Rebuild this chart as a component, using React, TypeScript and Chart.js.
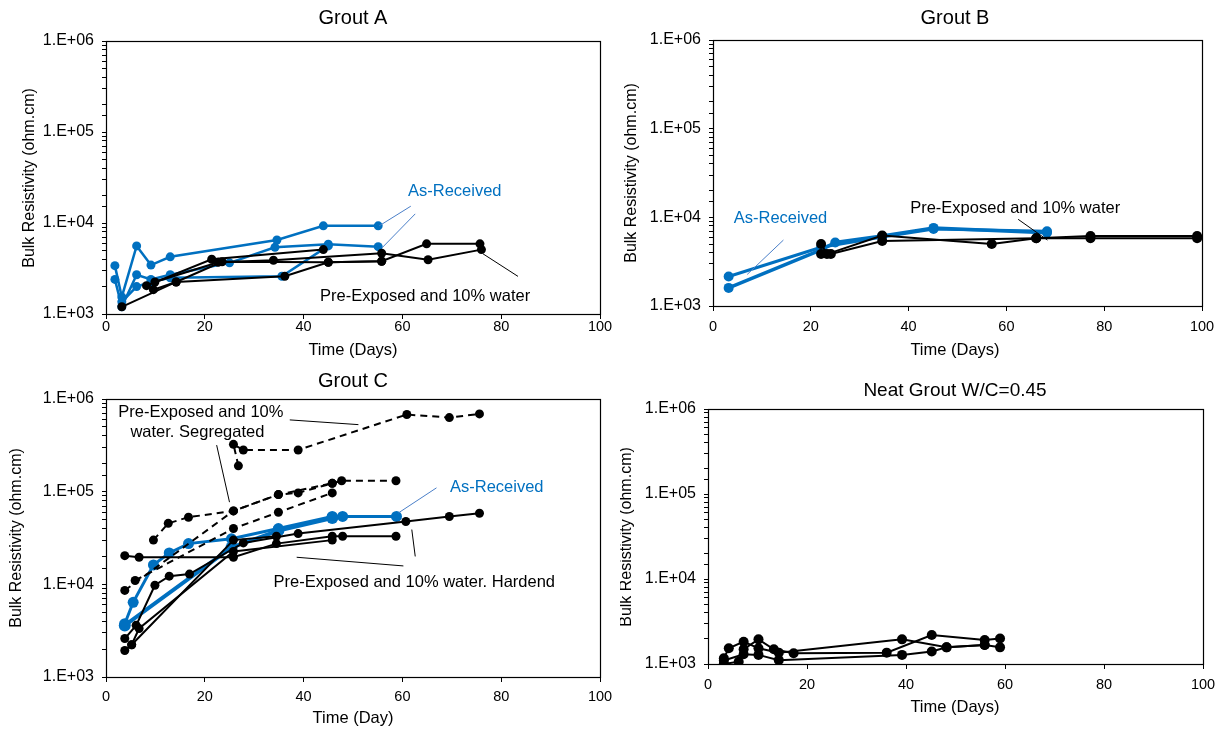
import React, { useEffect, useRef } from "react";
import { Chart, registerables } from "chart.js";

Chart.register(...registerables);

const BLUE = "#0070C0";
const BLACK = "#000000";
const FONT = "'Liberation Sans', Arial, sans-serif";

// ---------- Grout A ----------
const A_AR1_days = [1.8, 3.2, 6.2, 9.1, 13, 34.6, 44, 55.1];
const A_AR1_vals = [3400, 1540, 5600, 3450, 4250, 6500, 9300, 9300];
const A_AR2_days = [1.8, 3.2, 6.2, 9.1, 13, 25, 34.2, 45, 55.1];
const A_AR2_vals = [2400, 1200, 2700, 2400, 2700, 3650, 5400, 5850, 5500];
const A_AR3_days = [3.2, 6.2, 9.1, 13, 35.6, 45];
const A_AR3_vals = [1360, 2000, 2250, 2500, 2600, 5600];
const A_PE1_days = [3.2, 14.2, 36.2, 45, 55.8, 64.9, 75.7];
const A_PE1_vals = [1200, 2250, 2600, 3700, 3800, 5900, 5900];
const A_PE2_days = [8.2, 21.4, 44];
const A_PE2_vals = [2050, 4000, 5100];
const A_PE3_days = [9.9, 22.7, 33.9, 55.8, 65.2, 76];
const A_PE3_vals = [2250, 3700, 3900, 4650, 3950, 5100];
const A_PE4_days = [9.6, 14.2, 23.5, 45, 55.8];
const A_PE4_vals = [1850, 2250, 3750, 3700, 3800];

// ---------- Grout B ----------
const B_AR1_days = [3.2, 22.1, 25, 34.6, 45.1, 68.3];
const B_AR1_vals = [1600, 4300, 5200, 6150, 7600, 6700];
const B_AR2_days = [3.2, 22.1, 34.6, 45.1, 68.3];
const B_AR2_vals = [2150, 4600, 6000, 7400, 6950];
const B_PE1_days = [22.1, 23.3, 34.6, 57, 66.1, 77.2, 99];
const B_PE1_vals = [5000, 3850, 6250, 5000, 5800, 6150, 6150];
const B_PE2_days = [22.1, 24.1, 34.6, 66.1, 77.2, 99];
const B_PE2_vals = [3850, 3850, 5400, 5800, 5800, 5800];

// ---------- Grout C ----------
const C_SEG1_days = [26.8, 25.8, 27.8, 38.9, 60.9, 69.5, 75.6];
const C_SEG1_vals = [190000, 324000, 282000, 282000, 680000, 630000, 690000];
const C_SEG2_days = [9.6, 12.6, 16.7, 25.8, 34.9, 38.9, 45.8, 47.7, 58.7];
const C_SEG2_vals = [30000, 45500, 53000, 62000, 93000, 97000, 123000, 131000, 131000];
const C_SEG3_days = [3.8, 25.8, 34.9, 45.8];
const C_SEG3_vals = [8600, 62000, 93000, 123000];
const C_SEG4_days = [5.9, 25.8, 34.9, 45.8];
const C_SEG4_vals = [11000, 40000, 60000, 97000];
const C_AR1_days = [3.8, 5.5, 9.6, 12.8, 16.7, 25.4, 34.9, 45.8, 47.9, 58.8];
const C_AR1_vals = [3760, 6400, 16200, 21800, 27500, 31000, 40000, 54000, 54000, 54000];
const C_AR2_days = [3.8, 25.4, 34.9, 45.8];
const C_AR2_vals = [3600, 25000, 38000, 52000];
const C_HD1_days = [3.8, 6.7, 25.8, 34.5, 45.8, 47.9, 58.7];
const C_HD1_vals = [20400, 19600, 19600, 27500, 33000, 33000, 33000];
const C_HD2_days = [3.8, 6.1, 9.9, 12.8, 16.9, 27.8, 38.9, 60.7, 69.5, 75.6];
const C_HD2_vals = [2600, 3610, 9770, 12250, 12900, 28000, 35300, 47600, 54000, 58500];
const C_HD3_days = [3.8, 5.2, 6.7, 25.8, 45.8];
const C_HD3_vals = [1930, 2230, 3340, 22600, 30000];
const C_HD4_days = [5.2, 25.8, 34.5];
const C_HD4_vals = [2230, 30000, 33000];

// ---------- Neat grout ----------
const D_1_days = [3.2, 4.2, 7.2, 10.2, 14.3, 39.2, 48.2, 55.9, 59];
const D_1_vals = [1170, 1530, 1830, 1530, 1360, 1950, 1570, 1670, 1570];
const D_2_days = [3.2, 6.2, 7.2, 10.2, 13.3, 17.3, 36.1, 45.2, 55.9, 59];
const D_2_vals = [1000, 1065, 1490, 1950, 1490, 1340, 1360, 2190, 1920, 2000];
const D_3_days = [3.2, 7.2, 10.2, 14.3, 39.2, 45.2, 48.2, 55.9];
const D_3_vals = [1100, 1300, 1280, 1110, 1280, 1400, 1570, 1670];

type SeriesCfg = { days: number[]; vals: number[]; color: string; width: number; radius: number; dash?: number[] };
type TextCfg = { text: string; x: number; y: number; color: string };
type LineCfg = { x1: number; y1: number; x2: number; y2: number; color: string };
type PanelCfg = {
  box: { left: number; top: number; width: number; height: number };
  plot: { L: number; R: number; T: number; B: number };
  xPad: number;
  title: string; titleSize: number; titleX: number; titleY: number;
  yTitleX: number; yTitleY: number;
  xTitle: string; xTitleX: number; xTitleY: number;
  series: SeriesCfg[]; texts: TextCfg[]; leaders: LineCfg[];
};

const Y_TITLE = "Bulk Resistivity (ohm.cm)";
const DASH = [7, 5];
const LEADER_BLUE = "#4a7fc8";

const panels: PanelCfg[] = [
  {
    box: { left: 0, top: 0, width: 620, height: 368 },
    plot: { L: 106, R: 600, T: 41, B: 314 },
    xPad: -1,
    title: "Grout A", titleSize: 20, titleX: 353, titleY: 18,
    yTitleX: 30, yTitleY: 178,
    xTitle: "Time (Days)", xTitleX: 353, xTitleY: 350,
    series: [
      { days: A_PE1_days, vals: A_PE1_vals, color: BLACK, width: 2, radius: 4.5 },
      { days: A_PE2_days, vals: A_PE2_vals, color: BLACK, width: 2, radius: 4.5 },
      { days: A_PE3_days, vals: A_PE3_vals, color: BLACK, width: 2, radius: 4.5 },
      { days: A_PE4_days, vals: A_PE4_vals, color: BLACK, width: 2, radius: 4.5 },
      { days: A_AR1_days, vals: A_AR1_vals, color: BLUE, width: 2.5, radius: 4.5 },
      { days: A_AR2_days, vals: A_AR2_vals, color: BLUE, width: 2.5, radius: 4.5 },
      { days: A_AR3_days, vals: A_AR3_vals, color: BLUE, width: 2.5, radius: 4.5 },
    ],
    texts: [
      { text: "As-Received", x: 70.6, y: 22400, color: BLUE },
      { text: "Pre-Exposed and 10% water", x: 64.6, y: 1570, color: BLACK },
    ],
    leaders: [
      { x1: 61.7, y1: 15300, x2: 55.3, y2: 9300, color: LEADER_BLUE },
      { x1: 62.6, y1: 12600, x2: 55.9, y2: 5350, color: LEADER_BLUE },
      { x1: 83.4, y1: 2590, x2: 76.3, y2: 4590, color: BLACK },
    ],
  },
  {
    box: { left: 620, top: 0, width: 605, height: 368 },
    plot: { L: 713, R: 1202, T: 40, B: 306 },
    xPad: 7,
    title: "Grout B", titleSize: 20, titleX: 955, titleY: 18,
    yTitleX: 632, yTitleY: 173,
    xTitle: "Time (Days)", xTitleX: 955, xTitleY: 350,
    series: [
      { days: B_PE1_days, vals: B_PE1_vals, color: BLACK, width: 2, radius: 5 },
      { days: B_PE2_days, vals: B_PE2_vals, color: BLACK, width: 2, radius: 5 },
      { days: B_AR1_days, vals: B_AR1_vals, color: BLUE, width: 3.5, radius: 5 },
      { days: B_AR2_days, vals: B_AR2_vals, color: BLUE, width: 3, radius: 5 },
    ],
    texts: [
      { text: "As-Received", x: 13.8, y: 9800, color: BLUE },
      { text: "Pre-Exposed and 10% water", x: 61.8, y: 12600, color: BLACK },
    ],
    leaders: [
      { x1: 14.4, y1: 5540, x2: 7, y2: 2270, color: LEADER_BLUE },
      { x1: 62.4, y1: 9500, x2: 68.4, y2: 5540, color: BLACK },
    ],
  },
  {
    box: { left: 0, top: 368, width: 620, height: 364 },
    plot: { L: 106, R: 600, T: 399, B: 677 },
    xPad: 6,
    title: "Grout C", titleSize: 20, titleX: 353, titleY: 381,
    yTitleX: 17, yTitleY: 538,
    xTitle: "Time (Day)", xTitleX: 353, xTitleY: 718,
    series: [
      { days: C_SEG1_days, vals: C_SEG1_vals, color: BLACK, width: 2, radius: 4.5, dash: DASH },
      { days: C_SEG2_days, vals: C_SEG2_vals, color: BLACK, width: 2, radius: 4.5, dash: DASH },
      { days: C_SEG3_days, vals: C_SEG3_vals, color: BLACK, width: 2, radius: 4.5, dash: DASH },
      { days: C_SEG4_days, vals: C_SEG4_vals, color: BLACK, width: 2, radius: 4.5, dash: DASH },
      { days: C_HD1_days, vals: C_HD1_vals, color: BLACK, width: 2, radius: 4.5 },
      { days: C_HD2_days, vals: C_HD2_vals, color: BLACK, width: 2, radius: 4.5 },
      { days: C_HD3_days, vals: C_HD3_vals, color: BLACK, width: 2, radius: 4.5 },
      { days: C_HD4_days, vals: C_HD4_vals, color: BLACK, width: 2, radius: 4.5 },
      { days: C_AR2_days, vals: C_AR2_vals, color: BLUE, width: 4, radius: 6 },
      { days: C_AR1_days, vals: C_AR1_vals, color: BLUE, width: 3, radius: 5.5 },
    ],
    texts: [
      { text: "Pre-Exposed and 10%", x: 19.2, y: 720000, color: BLACK },
      { text: "water. Segregated", x: 18.5, y: 435000, color: BLACK },
      { text: "As-Received", x: 79.1, y: 112000, color: BLUE },
      { text: "Pre-Exposed and 10% water. Hardend", x: 62.4, y: 10600, color: BLACK },
    ],
    leaders: [
      { x1: 37.2, y1: 595000, x2: 51.1, y2: 529000, color: BLACK },
      { x1: 22.4, y1: 318000, x2: 25, y2: 77000, color: BLACK },
      { x1: 66.9, y1: 110000, x2: 59.2, y2: 59000, color: LEADER_BLUE },
      { x1: 60.2, y1: 15800, x2: 38.6, y2: 19600, color: BLACK },
      { x1: 62.6, y1: 20000, x2: 61.9, y2: 39000, color: BLACK },
    ],
  },
  {
    box: { left: 620, top: 368, width: 605, height: 364 },
    plot: { L: 708, R: 1203, T: 409, B: 664 },
    xPad: 7,
    title: "Neat Grout W/C=0.45", titleSize: 19, titleX: 955, titleY: 391,
    yTitleX: 627, yTitleY: 537,
    xTitle: "Time (Days)", xTitleX: 955, xTitleY: 707,
    series: [
      { days: D_1_days, vals: D_1_vals, color: BLACK, width: 2, radius: 5 },
      { days: D_2_days, vals: D_2_vals, color: BLACK, width: 2, radius: 5 },
      { days: D_3_days, vals: D_3_vals, color: BLACK, width: 2, radius: 5 },
    ],
    texts: [],
    leaders: [],
  },
];

const isDecade = (v: number) => {
  const l = Math.log10(v);
  return Math.abs(l - Math.round(l)) < 1e-6;
};

function makePlugin(cfg: PanelCfg) {
  return {
    id: "decor",
    afterDatasetsDraw(chart: any) {
      const ctx = chart.ctx as CanvasRenderingContext2D;
      const xs = chart.scales.x;
      const ys = chart.scales.y;
      const { left, top, right, bottom } = chart.chartArea;
      ctx.save();
      for (const l of cfg.leaders) {
        ctx.strokeStyle = l.color;
        ctx.lineWidth = 1;
        ctx.beginPath();
        ctx.moveTo(xs.getPixelForValue(l.x1), ys.getPixelForValue(l.y1));
        ctx.lineTo(xs.getPixelForValue(l.x2), ys.getPixelForValue(l.y2));
        ctx.stroke();
      }
      ctx.font = `16.5px ${FONT}`;
      ctx.textAlign = "center";
      ctx.textBaseline = "middle";
      for (const t of cfg.texts) {
        ctx.fillStyle = t.color;
        ctx.fillText(t.text, xs.getPixelForValue(t.x), ys.getPixelForValue(t.y));
      }
      ctx.strokeStyle = "#000";
      ctx.lineWidth = 1.2;
      ctx.strokeRect(Math.round(left) + 0.5, Math.round(top) + 0.5, Math.round(right - left), Math.round(bottom - top));
      ctx.restore();
    },
    afterDraw(chart: any) {
      const ctx = chart.ctx as CanvasRenderingContext2D;
      const ox = cfg.box.left;
      const oy = cfg.box.top;
      ctx.save();
      ctx.fillStyle = "#000";
      ctx.textAlign = "center";
      ctx.textBaseline = "middle";
      ctx.font = `${cfg.titleSize}px ${FONT}`;
      ctx.fillText(cfg.title, cfg.titleX - ox, cfg.titleY - oy);
      ctx.font = `16.5px ${FONT}`;
      ctx.fillText(cfg.xTitle, cfg.xTitleX - ox, cfg.xTitleY - oy);
      ctx.font = `16px ${FONT}`;
      ctx.translate(cfg.yTitleX - ox, cfg.yTitleY - oy);
      ctx.rotate(-Math.PI / 2);
      ctx.fillText(Y_TITLE, 0, 0);
      ctx.restore();
    },
  };
}

function Panel({ cfg }: { cfg: PanelCfg }) {
  const ref = useRef<HTMLCanvasElement | null>(null);
  useEffect(() => {
    if (!ref.current) return;
    const { box, plot } = cfg;
    const chart = new Chart(ref.current, {
      type: "line",
      data: {
        datasets: cfg.series.map((s) => ({
          data: s.days.map((d, i) => ({ x: d, y: s.vals[i] })),
          borderColor: s.color,
          backgroundColor: s.color,
          borderWidth: s.width,
          borderDash: s.dash || [],
          pointRadius: s.radius,
          pointBorderWidth: 0,
          pointBackgroundColor: s.color,
          pointBorderColor: s.color,
          tension: 0,
          fill: false,
        })),
      },
      options: {
        responsive: false,
        animation: false,
        devicePixelRatio: 1,
        layout: {
          padding: { left: 0, top: plot.T - box.top, right: box.left + box.width - plot.R, bottom: 0 },
        },
        plugins: { legend: { display: false }, tooltip: { enabled: false }, title: { display: false } },
        scales: {
          x: {
            type: "linear",
            min: 0,
            max: 100,
            border: { display: false },
            grid: { drawOnChartArea: false, drawTicks: true, tickLength: 5, color: "#000" },
            ticks: { stepSize: 20, color: "#000", font: { size: 14.5, family: FONT }, padding: cfg.xPad, maxRotation: 0 },
            afterFit: (s: any) => {
              s.height = box.top + box.height - plot.B;
            },
          },
          y: {
            type: "logarithmic",
            min: 1000,
            max: 1000000,
            border: { display: false },
            grid: { drawOnChartArea: false, drawTicks: true, tickLength: 4, color: "#000" },
            ticks: {
              autoSkip: false,
              color: "#000",
              font: { size: 16, family: FONT },
              padding: 8,
              callback: (v: any) => {
                const n = Number(v);
                return isDecade(n) ? `1.E+0${Math.round(Math.log10(n))}` : "";
              },
            },
            afterFit: (s: any) => {
              s.width = plot.L - box.left;
            },
          },
        },
      },
      plugins: [makePlugin(cfg)],
    } as any);
    return () => chart.destroy();
  }, [cfg]);
  return (
    <canvas
      ref={ref}
      width={cfg.box.width}
      height={cfg.box.height}
      style={{ position: "absolute", left: cfg.box.left, top: cfg.box.top, width: cfg.box.width, height: cfg.box.height }}
    />
  );
}

export default function App() {
  useEffect(() => {
    document.body.style.margin = "0";
    document.body.style.background = "#fff";
  }, []);
  return (
    <div style={{ position: "relative", width: 1225, height: 732, background: "#fff", overflow: "hidden" }}>
      {panels.map((p, i) => (
        <Panel key={i} cfg={p} />
      ))}
    </div>
  );
}
